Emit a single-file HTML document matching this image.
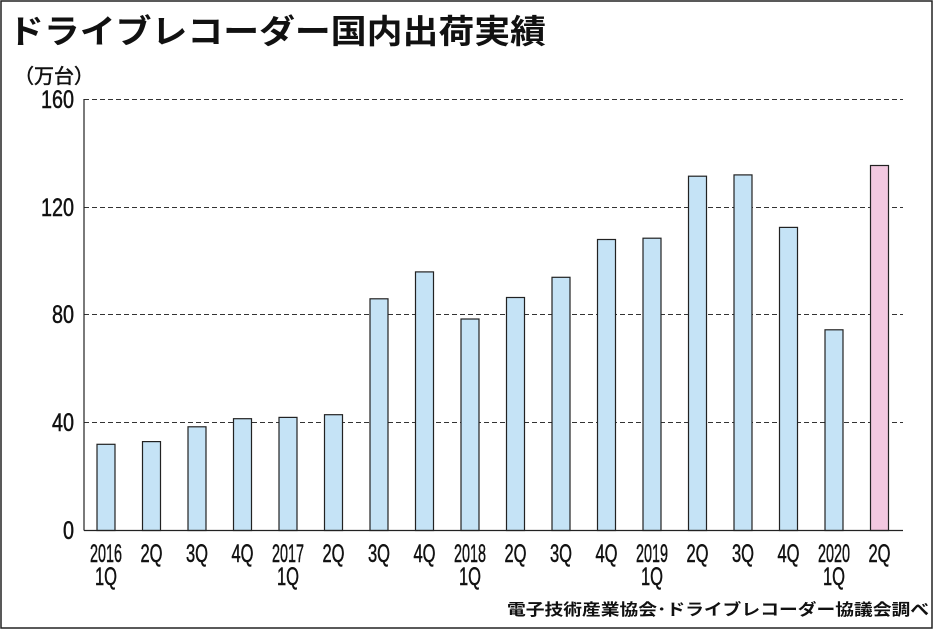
<!DOCTYPE html>
<html><head><meta charset="utf-8"><style>
body{margin:0;background:#fff;}
svg text{font-family:"Liberation Sans","Noto Sans CJK JP",sans-serif;fill:#111;}
.jp{font-family:"Liberation Sans","Noto Sans CJK JP",sans-serif;font-weight:bold;}
.n{stroke:#111;stroke-width:0.5;}
</style></head><body>
<svg width="939" height="630" xmlns="http://www.w3.org/2000/svg">
<rect x="1" y="1" width="931" height="627" fill="none" stroke="#222" stroke-width="1.5"/>
<text class="jp" x="8" y="43" font-size="33" textLength="538" lengthAdjust="spacingAndGlyphs">ドライブレコーダー国内出荷実績</text>
<text x="14" y="83" font-size="20" class="n">（万台）</text>
<g stroke="#333" stroke-width="1" stroke-dasharray="5,3">
<line x1="84" y1="99.5" x2="903" y2="99.5"/>
<line x1="84" y1="207.5" x2="903" y2="207.5"/>
<line x1="84" y1="314.5" x2="903" y2="314.5"/>
<line x1="84" y1="422.5" x2="903" y2="422.5"/>
</g>
<g font-size="25" text-anchor="end" class="n">
<text x="74" y="108" textLength="33" lengthAdjust="spacingAndGlyphs">160</text>
<text x="74" y="216" textLength="33" lengthAdjust="spacingAndGlyphs">120</text>
<text x="74" y="323" textLength="22" lengthAdjust="spacingAndGlyphs">80</text>
<text x="74" y="431" textLength="22" lengthAdjust="spacingAndGlyphs">40</text>
<text x="74" y="539" textLength="11" lengthAdjust="spacingAndGlyphs">0</text>
</g>
<g stroke="#222" stroke-width="1.2" fill="#c5e3f6">
<rect x="97" y="444.3" width="18" height="86.2"/>
<rect x="142.5" y="441.6" width="18" height="88.9"/>
<rect x="188" y="426.8" width="18" height="103.7"/>
<rect x="233.5" y="418.7" width="18" height="111.8"/>
<rect x="279" y="417.4" width="18" height="113.1"/>
<rect x="324.5" y="414.7" width="18" height="115.8"/>
<rect x="370" y="298.8" width="18" height="231.7"/>
<rect x="415.5" y="271.9" width="18" height="258.6"/>
<rect x="461" y="319" width="18" height="211.5"/>
<rect x="506.5" y="297.5" width="18" height="233"/>
<rect x="552" y="277.3" width="18" height="253.2"/>
<rect x="597.5" y="239.5" width="18" height="291"/>
<rect x="643" y="238.2" width="18" height="292.3"/>
<rect x="688.5" y="176.2" width="18" height="354.3"/>
<rect x="734" y="174.9" width="18" height="355.6"/>
<rect x="779.5" y="227.4" width="18" height="303.1"/>
<rect x="825" y="329.8" width="18" height="200.7"/>
<rect x="870.5" y="165.5" width="18" height="365" fill="#f2c8e0"/>
</g>
<line x1="84" y1="99" x2="84" y2="530.5" stroke="#222" stroke-width="1.2"/>
<line x1="84" y1="530.5" x2="903" y2="530.5" stroke="#222" stroke-width="1.2"/>
<g font-size="25" text-anchor="middle" class="n">
<text x="106" y="562" textLength="32" lengthAdjust="spacingAndGlyphs">2016</text>
<text x="106" y="585" textLength="22" lengthAdjust="spacingAndGlyphs">1Q</text>
<text x="151.5" y="562" textLength="22" lengthAdjust="spacingAndGlyphs">2Q</text>
<text x="197" y="562" textLength="22" lengthAdjust="spacingAndGlyphs">3Q</text>
<text x="242.5" y="562" textLength="22" lengthAdjust="spacingAndGlyphs">4Q</text>
<text x="288" y="562" textLength="32" lengthAdjust="spacingAndGlyphs">2017</text>
<text x="288" y="585" textLength="22" lengthAdjust="spacingAndGlyphs">1Q</text>
<text x="333.5" y="562" textLength="22" lengthAdjust="spacingAndGlyphs">2Q</text>
<text x="379" y="562" textLength="22" lengthAdjust="spacingAndGlyphs">3Q</text>
<text x="424.5" y="562" textLength="22" lengthAdjust="spacingAndGlyphs">4Q</text>
<text x="470" y="562" textLength="32" lengthAdjust="spacingAndGlyphs">2018</text>
<text x="470" y="585" textLength="22" lengthAdjust="spacingAndGlyphs">1Q</text>
<text x="515.5" y="562" textLength="22" lengthAdjust="spacingAndGlyphs">2Q</text>
<text x="561" y="562" textLength="22" lengthAdjust="spacingAndGlyphs">3Q</text>
<text x="606.5" y="562" textLength="22" lengthAdjust="spacingAndGlyphs">4Q</text>
<text x="652" y="562" textLength="32" lengthAdjust="spacingAndGlyphs">2019</text>
<text x="652" y="585" textLength="22" lengthAdjust="spacingAndGlyphs">1Q</text>
<text x="697.5" y="562" textLength="22" lengthAdjust="spacingAndGlyphs">2Q</text>
<text x="743" y="562" textLength="22" lengthAdjust="spacingAndGlyphs">3Q</text>
<text x="788.5" y="562" textLength="22" lengthAdjust="spacingAndGlyphs">4Q</text>
<text x="834" y="562" textLength="32" lengthAdjust="spacingAndGlyphs">2020</text>
<text x="834" y="585" textLength="22" lengthAdjust="spacingAndGlyphs">1Q</text>
<text x="879.5" y="562" textLength="22" lengthAdjust="spacingAndGlyphs">2Q</text>
</g>
<text class="jp" x="929" y="615" font-size="16" text-anchor="end" textLength="422" lengthAdjust="spacingAndGlyphs">電子技術産業協会･ドライブレコーダー協議会調べ</text>
</svg>
</body></html>
